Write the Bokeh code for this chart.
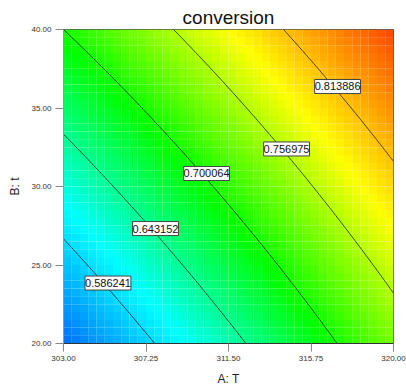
import numpy as np
from bokeh.plotting import figure
from bokeh.models import ColumnDataSource, LinearColorMapper, Label, FixedTicker, PrintfTickFormatter, Range1d
from bokeh.embed import file_html
from bokeh.resources import INLINE

# ---------------- data ----------------
title_text = "conversion"
x_label = "A: T"
y_label = "B: t"
T_range = [303.0, 320.0]
t_range = [20.0, 40.0]
x_ticks = [303.00, 307.25, 311.50, 315.75, 320.00]
y_ticks = [20.00, 25.00, 30.00, 35.00, 40.00]

# fitted response surface in coded units (A, B in [-1, 1])
coef_names = ["Intercept", "A", "B", "AB"]
coef_values = [0.70886, 0.09417, 0.07657, -0.00880]

contour_levels = [0.586241, 0.643152, 0.700064, 0.756975, 0.813886]
label_T = [305.29, 307.74, 310.37, 314.49, 317.12]
label_t = [23.85, 27.32, 30.83, 32.39, 36.37]

color_low = 0.5293295
color_high = 0.8707985
n_cells = 40

# colour ramp stops (position, rgb)
stop_pos = [0.0, 0.22, 0.48, 0.75, 1.0]
stop_rgb = [(0, 110, 255), (0, 255, 255), (0, 255, 0), (255, 255, 0), (255, 70, 0)]

# ---------------- model ----------------
def coded(v, lo, hi):
    return (v - (lo + hi) / 2.0) / ((hi - lo) / 2.0)

def conversion(T, t):
    a = coded(T, *T_range)
    b = coded(t, *t_range)
    b0, bA, bB, bAB = coef_values
    return b0 + bA * a + bB * b + bAB * a * b

def make_palette(n=256):
    out = []
    for k in range(n):
        f = k / (n - 1)
        rgb = [int(round(np.interp(f, stop_pos, [c[i] for c in stop_rgb]))) for i in range(3)]
        out.append("#%02x%02x%02x" % tuple(rgb))
    return out

palette = make_palette()
mapper = LinearColorMapper(palette=palette, low=color_low, high=color_high)

dT = (T_range[1] - T_range[0]) / n_cells
dt = (t_range[1] - t_range[0]) / n_cells
Tc = T_range[0] + (np.arange(n_cells) + 0.5) * dT
tc = t_range[0] + (np.arange(n_cells) + 0.5) * dt
TT, tt = np.meshgrid(Tc, tc)
ZZ = conversion(TT, tt)
cells = ColumnDataSource(dict(x=TT.ravel(), y=tt.ravel(), z=ZZ.ravel()))

# ---------------- figure ----------------
p = figure(frame_width=330, frame_height=314, output_backend="svg", toolbar_location=None,
           x_range=Range1d(*T_range), y_range=Range1d(*t_range),
           title=title_text)
p.min_border_left = 63
p.min_border_right = 13
p.min_border_top = 29
p.min_border_bottom = 42
p.background_fill_color = "white"
p.border_fill_color = "white"
p.outline_line_color = "#555555"
p.grid.visible = False

p.rect(x="x", y="y", width=dT * 1.01, height=dt * 1.01, source=cells,
       fill_color={"field": "z", "transform": mapper}, line_color=None)

Tf = np.linspace(T_range[0], T_range[1], 121)
tf = np.linspace(t_range[0], t_range[1], 121)
TF, tF = np.meshgrid(Tf, tf)
ZF = conversion(TF, tF)
p.contour(Tf, tf, ZF, levels=contour_levels, line_color="#000000", line_alpha=0.7, line_width=1)

for lev, lx, ly in zip(contour_levels, label_T, label_t):
    p.add_layout(Label(x=lx, y=ly, text="%.6f" % lev, text_align="center", text_baseline="middle",
                       text_font="Liberation Sans", text_font_size="11px", text_color="#111111",
                       background_fill_color="white", border_line_color="#444444",
                       border_line_width=1, padding=(0, 3)))

p.title.align = "center"
p.title.text_font = "Liberation Sans"
p.title.text_font_size = "19px"
p.title.text_font_style = "normal"
p.title.text_color = "#111111"
p.title.standoff = 3

for ax in (p.xaxis[0], p.yaxis[0]):
    ax.axis_label_text_font = "Liberation Sans"
    ax.axis_label_text_font_size = "12px"
    ax.axis_label_text_font_style = "normal"
    ax.axis_label_text_color = "#222222"
    ax.major_label_text_font = "Liberation Sans"
    ax.major_label_text_font_size = "8px"
    ax.major_label_text_color = "#333333"
    ax.major_tick_out = 8
    ax.major_tick_in = 0
    ax.minor_tick_out = 0
    ax.minor_tick_in = 0
    ax.major_tick_line_color = "#888888"
    ax.formatter = PrintfTickFormatter(format="%.2f")

p.xaxis[0].ticker = FixedTicker(ticks=x_ticks)
p.yaxis[0].ticker = FixedTicker(ticks=y_ticks)
p.xaxis[0].axis_label = x_label
p.yaxis[0].axis_label = y_label
p.xaxis[0].axis_line_color = "#333333"
p.yaxis[0].axis_line_color = "#999999"
p.xaxis[0].major_label_standoff = 4
p.yaxis[0].major_label_standoff = 4
p.xaxis[0].axis_label_standoff = 8
p.yaxis[0].axis_label_standoff = 6
p.yaxis[0].major_label_orientation = "horizontal"

open("out.html", "w").write(file_html(p, INLINE))
